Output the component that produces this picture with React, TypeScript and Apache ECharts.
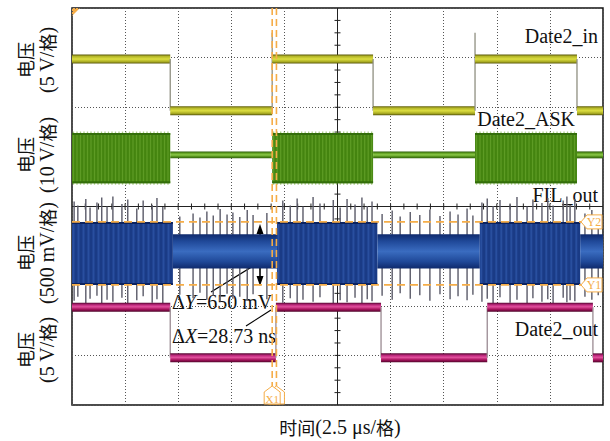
import { useEffect, useRef } from "react";
import * as echarts from "echarts";

const FONT = '"Liberation Serif", "Times New Roman", serif';
const CJK = '"Noto Sans CJK SC", "Liberation Serif", serif';
const ORANGE = "#f5ad48";

// Screen graticule (divisions)
const xMin = 0, xMax = 10, yMin = 0, yMax = 8;

// Date2_in (yellow): segment edges (div) and levels (div)
const inEdges = [0, 1.85, 3.77, 5.67, 7.59, 9.51, 10];
const inLevels = [6.97, 5.93, 6.97, 5.93, 6.97, 5.93];
const inOvershoot = 7.5;

// Date2_ASK (green): burst on/off per segment
const askEdges = [0, 1.85, 3.77, 5.67, 7.59, 9.51, 10];
const askOn = [1, 0, 1, 0, 1, 0];
const askBurstTop = 5.48;
const askBurstBottom = 4.47;
const askIdle = 5.04;

// FIL_out (blue)
const filEdges = [0, 1.9, 3.86, 5.75, 7.68, 9.57, 10];
const filOn = [1, 0, 1, 0, 1, 0];
const filHighTop = 3.69;
const filHighBottom = 2.42;
const filLowTop = 3.44;
const filLowBottom = 2.75;
const spikeX = [
  0.04, 0.11, 0.26, 0.34, 0.47, 0.56, 0.66, 0.77, 0.94, 1.05, 1.22, 1.34, 1.51, 1.6, 1.71,
  2.03, 2.28, 2.41, 2.54, 2.66, 2.79, 2.92, 3.03, 3.16, 3.3, 3.41, 3.67,
  3.97, 4.11, 4.24, 4.35, 4.54, 4.67, 4.92, 5.05, 5.18, 5.33, 5.46, 5.56, 5.65,
  5.84, 6.03, 6.18, 6.37, 6.55, 6.74, 6.93, 7.12, 7.27, 7.44, 7.55,
  7.72, 7.82, 7.93, 8.06, 8.25, 8.38, 8.57, 8.68, 8.85, 8.96, 9.06, 9.25, 9.32, 9.38, 9.47,
  9.66, 9.79, 9.91,
];
const spikeTop = [
  4.1, 4.02, 4.15, 3.98, 4.08, 4.18, 4.0, 4.2, 4.05, 4.14, 3.96, 4.12, 4.03, 4.17, 3.99,
  3.8, 3.86, 3.78, 3.9, 3.82, 3.95, 3.84, 3.88, 3.79, 3.93, 3.83, 3.87,
  4.12, 4.02, 4.16, 4.0, 4.19, 4.06, 4.13, 3.98, 4.15, 4.04, 4.18, 4.01, 4.1,
  3.85, 3.92, 3.8, 3.89, 3.83, 3.94, 3.81, 3.9, 3.84, 3.96, 3.82,
  4.08, 4.16, 4.01, 4.13, 4.04, 4.19, 4.0, 4.14, 4.07, 4.17, 4.02, 4.12, 4.2, 4.03, 4.15,
  3.86, 3.93, 3.83,
];
const spikeBottom = [
  2.1, 2.18, 2.05, 2.14, 2.2, 2.03, 2.12, 2.08, 2.16, 2.02, 2.11, 2.19, 2.06, 2.13, 2.04,
  2.22, 2.15, 2.26, 2.12, 2.2, 2.09, 2.24, 2.14, 2.18, 2.1, 2.23, 2.13,
  2.06, 2.15, 2.04, 2.12, 2.08, 2.17, 2.03, 2.11, 2.07, 2.16, 2.05, 2.13, 2.09,
  2.2, 2.12, 2.25, 2.14, 2.21, 2.1, 2.23, 2.13, 2.19, 2.11, 2.22,
  2.08, 2.14, 2.04, 2.17, 2.06, 2.12, 2.03, 2.15, 2.08, 2.13, 2.05, 2.16, 2.07, 2.11, 2.09,
  2.18, 2.12, 2.21,
];

// Date2_out (magenta)
const outEdges = [0, 1.85, 3.84, 5.82, 7.82, 9.81, 10];
const outLevels = [1.97, 0.95, 1.97, 0.95, 1.97, 0.95];

// Cursors
const cursorX = [3.85, 3.77];
const cursorXNames = ["", "X1"];
const cursorY = [3.69, 2.42];
const cursorYNames = ["Y2", "Y1"];

const grad = (stops: [number, string][]) =>
  new echarts.graphic.LinearGradient(0, 0, 0, 1, stops.map(([offset, color]) => ({ offset, color })));

function levelRenderer(h: number, stops: [number, string][], edge: string, overshoot?: number) {
  return (_p: any, api: any) => {
    const x0 = api.value(0), x1 = api.value(1), lv = api.value(2), prev = api.value(3);
    const a = api.coord([x0, lv]);
    const b = api.coord([x1, lv]);
    const children: any[] = [];
    if (prev !== lv) {
      const p = api.coord([x0, prev]);
      let top = Math.min(a[1], p[1]);
      if (overshoot != null && lv > prev) top = api.coord([x0, overshoot])[1];
      children.push({
        type: "line",
        shape: { x1: a[0], y1: Math.max(a[1], p[1]), x2: a[0], y2: top },
        style: { stroke: edge, lineWidth: 1.3 },
      });
    }
    children.push({
      type: "rect",
      shape: { x: a[0], y: a[1] - h / 2, width: b[0] - a[0], height: h },
      style: { fill: grad(stops) },
    });
    return { type: "group", children };
  };
}

function burstRenderer(cfg: any) {
  return (_p: any, api: any) => {
    const x0 = api.value(0), x1 = api.value(1), on = api.value(2);
    const children: any[] = [];
    if (on) {
      const a = api.coord([x0, cfg.top]);
      const b = api.coord([x1, cfg.bottom]);
      children.push({
        type: "rect",
        shape: { x: a[0], y: a[1], width: b[0] - a[0], height: b[1] - a[1] },
        style: { fill: cfg.fill },
      });
      for (let px = a[0] + 1.5; px < b[0] - 0.5; px += cfg.step) {
        children.push({
          type: "line",
          shape: { x1: px, y1: a[1] - cfg.fringe, x2: px, y2: b[1] + cfg.fringe },
          style: { stroke: cfg.stripe, lineWidth: cfg.stripeW },
        });
      }
      children.push({
        type: "line",
        shape: { x1: a[0], y1: a[1] + 1, x2: b[0], y2: a[1] + 1 },
        style: { stroke: cfg.edge, lineWidth: 2 },
      });
      children.push({
        type: "line",
        shape: { x1: a[0], y1: b[1] - 1, x2: b[0], y2: b[1] - 1 },
        style: { stroke: cfg.edge, lineWidth: 2 },
      });
    } else {
      const a = api.coord([x0, cfg.idleTop]);
      const b = api.coord([x1, cfg.idleBottom]);
      children.push({
        type: "rect",
        shape: { x: a[0], y: a[1], width: b[0] - a[0], height: b[1] - a[1] },
        style: { fill: grad(cfg.idleStops) },
      });
    }
    return { type: "group", children };
  };
}

function graticule(_p: any, api: any) {
  const c = api.coord([(xMin + xMax) / 2, (yMin + yMax) / 2]);
  const tl = api.coord([xMin, yMax]);
  const br = api.coord([xMax, yMin]);
  const children: any[] = [
    { type: "line", shape: { x1: c[0], y1: tl[1], x2: c[0], y2: br[1] }, style: { stroke: "#222", lineWidth: 1 } },
    { type: "line", shape: { x1: tl[0], y1: c[1], x2: br[0], y2: c[1] }, style: { stroke: "#222", lineWidth: 1 } },
  ];
  for (let k = 1; k < (xMax - xMin) * 4; k++) {
    const x = api.coord([xMin + k * 0.25, 4])[0];
    children.push({ type: "line", shape: { x1: x, y1: c[1] - 3, x2: x, y2: c[1] + 3 }, style: { stroke: "#222", lineWidth: 1 } });
  }
  for (let k = 1; k < (yMax - yMin) * 4; k++) {
    const y = api.coord([5, yMin + k * 0.25])[1];
    children.push({ type: "line", shape: { x1: c[0] - 3, y1: y, x2: c[0] + 3, y2: y }, style: { stroke: "#222", lineWidth: 1 } });
  }
  return { type: "group", children };
}

function cursorXRenderer(p: any, api: any) {
  const x = api.value(0);
  const t = api.coord([x, yMax]);
  const b = api.coord([x, yMin]);
  const name = cursorXNames[p.dataIndex];
  const cx = t[0];
  const yb = b[1] - 1;
  return {
    type: "group",
    children: [
      { type: "line", shape: { x1: cx, y1: t[1], x2: cx, y2: yb - 17 }, style: { stroke: ORANGE, lineWidth: 1.6, lineDash: [7, 4] } },
      {
        type: "polygon",
        shape: { points: [[cx, yb - 18], [cx + 8, yb - 12], [cx + 8, yb], [cx - 8, yb], [cx - 8, yb - 12]] },
        style: { fill: "#fff", stroke: ORANGE, lineWidth: 1 },
      },
      { type: "text", style: { text: name, x: cx, y: yb - 5, align: "center", verticalAlign: "middle", fill: ORANGE, fontSize: 11, fontFamily: FONT } },
    ],
  };
}

function cursorYRenderer(p: any, api: any) {
  const y = api.value(0);
  const l = api.coord([xMin, y]);
  const r = api.coord([xMax, y]);
  const name = cursorYNames[p.dataIndex];
  const xr = r[0] - 1;
  const cy = l[1];
  return {
    type: "group",
    children: [
      { type: "line", shape: { x1: l[0], y1: cy, x2: xr - 20, y2: cy }, style: { stroke: ORANGE, lineWidth: 1.6, lineDash: [8, 5] } },
      {
        type: "polygon",
        shape: { points: [[xr - 21, cy], [xr - 15, cy - 7], [xr, cy - 7], [xr, cy + 7], [xr - 15, cy + 7]] },
        style: { fill: "#fff", stroke: ORANGE, lineWidth: 1 },
      },
      { type: "text", style: { text: name, x: xr - 8, y: cy, align: "center", verticalAlign: "middle", fill: ORANGE, fontSize: 12, fontFamily: FONT } },
    ],
  };
}

function spikeRenderer(_p: any, api: any) {
  const x = api.value(0);
  const a = api.coord([x, api.value(1)]);
  const b = api.coord([x, api.value(2)]);
  return {
    type: "line",
    shape: { x1: a[0], y1: a[1], x2: b[0], y2: b[1] },
    style: { stroke: "#5a5a68", lineWidth: 1.4 },
  };
}

const levelData = (edges: number[], levels: number[]) =>
  levels.map((lv, i) => [edges[i], edges[i + 1], lv, i > 0 ? levels[i - 1] : lv]);
const burstData = (edges: number[], on: number[]) => on.map((o, i) => [edges[i], edges[i + 1], o]);

const leftLabel = (y: number, scale: string) => ({
  type: "text",
  x: 36,
  y,
  rotation: Math.PI / 2,
  style: {
    text: `{c|电压}\n{n|(${scale}}{c|格}{n|)}`,
    align: "center",
    verticalAlign: "middle",
    fill: "#111",
    lineHeight: 22,
    rich: {
      c: { fontFamily: CJK, fontSize: 18, lineHeight: 22 },
      n: { fontFamily: FONT, fontSize: 20, lineHeight: 22 },
    },
  },
});

const rightLabel = (x: number, y: number, text: string) => ({
  type: "text",
  x,
  y,
  style: { text, align: "right", verticalAlign: "middle", fill: "#111", fontFamily: FONT, fontSize: 20 },
});

export default function App() {
  const ref = useRef<HTMLDivElement>(null);
  useEffect(() => {
    if (!ref.current) return;
    const chart = echarts.init(ref.current, undefined, { renderer: "svg" });
    const splitStyle = { color: "#555", type: [1, 2] as any, width: 1 };
    chart.setOption({
      animation: false,
      backgroundColor: "#fff",
      grid: { left: 72, top: 8, right: 7, bottom: 36, show: true, borderColor: "#111", borderWidth: 1.5, backgroundColor: "#fff" },
      xAxis: {
        type: "value", min: xMin, max: xMax, interval: 1,
        axisLine: { show: false }, axisTick: { show: false }, axisLabel: { show: false },
        splitLine: { show: true, lineStyle: splitStyle },
      },
      yAxis: {
        type: "value", min: yMin, max: yMax, interval: 1,
        axisLine: { show: false }, axisTick: { show: false }, axisLabel: { show: false },
        splitLine: { show: true, lineStyle: splitStyle },
      },
      series: [
        { type: "custom", silent: true, renderItem: graticule, data: [[5, 4]] },
        {
          type: "custom", silent: true, name: "Date2_in",
          renderItem: levelRenderer(9, [[0, "#5c5a0a"], [0.2, "#b4b628"], [0.5, "#dcde40"], [0.8, "#a8aa22"], [1, "#54520a"]], "#8f8f80", inOvershoot),
          data: levelData(inEdges, inLevels),
        },
        {
          type: "custom", silent: true, name: "Date2_ASK",
          renderItem: burstRenderer({
            top: askBurstTop, bottom: askBurstBottom, fill: "#44840f", stripe: "rgba(110,170,50,0.6)", stripeW: 1.3, step: 3.5, fringe: 1.5, edge: "#336e0a",
            idleTop: askIdle + 0.07, idleBottom: askIdle - 0.07,
            idleStops: [[0, "#2a5a08"], [0.3, "#68a828"], [0.5, "#8cc84a"], [0.7, "#5c9a20"], [1, "#2a5a08"]],
          }),
          data: burstData(askEdges, askOn),
        },
        {
          type: "custom", silent: true, name: "FIL_out spikes",
          renderItem: spikeRenderer,
          data: spikeX.map((x, i) => [x, spikeTop[i], spikeBottom[i]]),
        },
        {
          type: "custom", silent: true, name: "FIL_out",
          renderItem: burstRenderer({
            top: filHighTop, bottom: filHighBottom, fill: "#1a3b86", stripe: "rgba(60,105,190,0.45)", stripeW: 2, step: 5, fringe: 0, edge: "#0c2360",
            idleTop: filLowTop, idleBottom: filLowBottom,
            idleStops: [[0, "#0f2a6c"], [0.2, "#1f4898"], [0.5, "#3a6cc0"], [0.8, "#1f4898"], [1, "#0f2a6c"]],
          }),
          data: burstData(filEdges, filOn),
        },
        {
          type: "custom", silent: true, name: "Date2_out",
          renderItem: levelRenderer(9, [[0, "#540630"], [0.25, "#c22a80"], [0.45, "#e0509c"], [0.72, "#a8125e"], [1, "#4c0428"]], "#9a8a92"),
          data: levelData(outEdges, outLevels),
        },
        { type: "custom", silent: true, renderItem: cursorYRenderer, data: cursorY.map((y) => [y]) },
        { type: "custom", silent: true, renderItem: cursorXRenderer, data: cursorX.map((x) => [x]) },
      ],
      graphic: [
        { type: "polygon", shape: { points: [[72, 8], [80, 8], [72, 16]] }, style: { fill: ORANGE } },
        leftLabel(60, "5 V/"),
        leftLabel(155, "10 V/"),
        leftLabel(253, "500 mV/"),
        leftLabel(350, "5 V/"),
        rightLabel(598, 36, "Date2_in"),
        rightLabel(575, 119, "Date2_ASK"),
        rightLabel(598, 195, "FIL_out"),
        rightLabel(598, 329, "Date2_out"),
        // ΔY arrow
        { type: "line", shape: { x1: 260, y1: 230, x2: 260, y2: 280 }, style: { stroke: "#000", lineWidth: 1.6 } },
        { type: "polygon", shape: { points: [[260, 224], [256.5, 234], [263.5, 234]] }, style: { fill: "#000" } },
        { type: "polygon", shape: { points: [[260, 286], [256.5, 276], [263.5, 276]] }, style: { fill: "#000" } },
        { type: "line", shape: { x1: 258, y1: 263, x2: 211, y2: 292 }, style: { stroke: "#000", lineWidth: 1.2 } },
        { type: "line", shape: { x1: 246, y1: 326, x2: 271, y2: 310 }, style: { stroke: "#000", lineWidth: 1.2 } },
        {
          type: "text", x: 172, y: 302,
          style: { text: "{n|Δ}{i|Y}{n|=650 mV}", align: "left", verticalAlign: "middle", fill: "#111",
            rich: { n: { fontFamily: FONT, fontSize: 20 }, i: { fontFamily: FONT, fontSize: 20, fontStyle: "italic" } } },
        },
        {
          type: "text", x: 172, y: 336,
          style: { text: "{n|Δ}{i|X}{n|=28.73 ns}", align: "left", verticalAlign: "middle", fill: "#111",
            rich: { n: { fontFamily: FONT, fontSize: 20 }, i: { fontFamily: FONT, fontSize: 20, fontStyle: "italic" } } },
        },
        {
          type: "text", x: 340, y: 427,
          style: { text: "{c|时间}{n|(2.5 μs/}{c|格}{n|)}", align: "center", verticalAlign: "middle", fill: "#111",
            rich: { c: { fontFamily: CJK, fontSize: 18 }, n: { fontFamily: FONT, fontSize: 20 } } },
        },
      ],
    });
    return () => chart.dispose();
  }, []);
  return <div ref={ref} style={{ width: 610, height: 441, position: "absolute", left: 0, top: 0 }} />;
}
